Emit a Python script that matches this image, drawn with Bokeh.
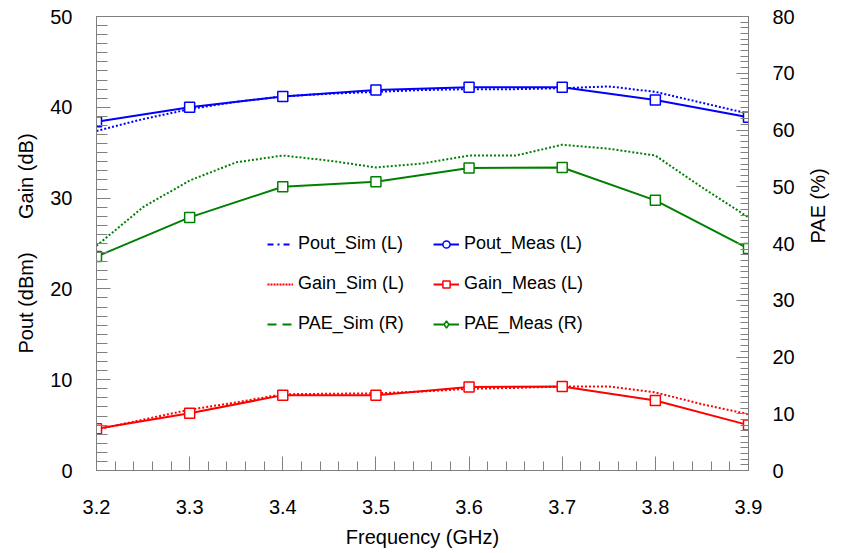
import math
from bokeh.plotting import figure
from bokeh.models import Range1d, LinearAxis, FixedTicker, Legend, LegendItem
from bokeh.embed import file_html
from bokeh.resources import INLINE

# ---------------- data ----------------
freq_meas = [3.2, 3.3, 3.4, 3.5, 3.6, 3.7, 3.8, 3.9]
freq_sim = [3.2, 3.25, 3.3, 3.35, 3.4, 3.45, 3.5, 3.55, 3.6, 3.65, 3.7, 3.75, 3.8, 3.85, 3.9]

pout_meas = [38.4, 40.0, 41.2, 41.9, 42.2, 42.2, 40.8, 38.9]
pout_sim = [37.4, 38.7, 39.8, 40.6, 41.2, 41.5, 41.7, 41.9, 42.0, 42.0, 42.1, 42.3, 41.7, 40.5, 39.3]
gain_meas = [4.6, 6.3, 8.3, 8.3, 9.2, 9.25, 7.7, 5.0]
gain_sim = [4.5, 5.6, 6.7, 7.5, 8.4, 8.45, 8.5, 8.7, 9.0, 9.1, 9.25, 9.25, 8.6, 7.3, 6.2]
pae_meas = [37.7, 44.6, 50.0, 50.9, 53.3, 53.4, 47.6, 39.1]
pae_sim = [39.6, 46.4, 51.1, 54.3, 55.5, 54.6, 53.4, 54.1, 55.5, 55.5, 57.4, 56.7, 55.5, 49.9, 44.6]

x_ticks = [3.2, 3.3, 3.4, 3.5, 3.6, 3.7, 3.8, 3.9]
left_ticks = [0, 10, 20, 30, 40, 50]
right_ticks = [0, 10, 20, 30, 40, 50, 60, 70, 80]

labels_sim = ["Pout_Sim (L)", "Gain_Sim (L)", "PAE_Sim (R)"]
labels_meas = ["Pout_Meas (L)", "Gain_Meas (L)", "PAE_Meas (R)"]

x_minor = [round(3.2 + 0.02 * i, 2) for i in range(36)]
left_minor = list(range(0, 51))
right_minor = list(range(0, 81))

NBSP = "\u00a0"
left_title = "Pout (dBm)" + NBSP * 5 + " Gain (dB)"
right_title = "PAE (%)"
x_title = "Frequency (GHz)"

# ---------------- style ----------------
BLUE = "#0000ff"
RED = "#ff0000"
GREEN = "#008000"
GRAY = "#808080"
FONT = "Liberation Sans"
NAN = float("nan")

p = figure(width=842, height=553,
           x_range=Range1d(3.2, 3.9), y_range=Range1d(0, 50),
           output_backend="svg", toolbar_location=None,
           min_border_left=96, min_border_right=90,
           min_border_top=16, min_border_bottom=83)
p.extra_y_ranges = {"pae": Range1d(0, 80)}
p.grid.visible = False
p.outline_line_color = GRAY
p.outline_line_width = 1

right_axis = LinearAxis(y_range_name="pae")
p.add_layout(right_axis, "right")

p.xaxis.ticker = FixedTicker(ticks=x_ticks, minor_ticks=x_minor)
p.yaxis[0].ticker = FixedTicker(ticks=left_ticks, minor_ticks=left_minor)
right_axis.ticker = FixedTicker(ticks=right_ticks, minor_ticks=right_minor)

for ax in [p.xaxis[0], p.yaxis[0], right_axis]:
    ax.axis_line_color = GRAY
    ax.major_tick_line_color = GRAY
    ax.minor_tick_line_color = GRAY
    ax.major_tick_out = 0
    ax.minor_tick_out = 0
    ax.major_label_text_font = FONT
    ax.major_label_text_font_size = "20px"
    ax.major_label_text_color = "black"
    ax.axis_label_text_font = FONT
    ax.axis_label_text_font_size = "20px"
    ax.axis_label_text_font_style = "normal"
    ax.axis_label_text_color = "black"

p.xaxis.major_tick_in = 14
p.xaxis.minor_tick_in = 9
p.xaxis.major_label_standoff = 29
p.xaxis.axis_label = x_title
p.xaxis.axis_label_standoff = 9

p.yaxis[0].major_tick_in = 14
p.yaxis[0].minor_tick_in = 11
p.yaxis[0].major_label_standoff = 24
p.yaxis[0].axis_label = left_title
p.yaxis[0].axis_label_standoff = 10

right_axis.major_tick_in = 12
right_axis.minor_tick_in = 8
right_axis.major_label_standoff = 24
right_axis.axis_label = right_title
right_axis.axis_label_standoff = 20
right_axis.axis_label_orientation = math.pi / 2

# ---------------- glyphs ----------------
p.line(freq_sim, pout_sim, line_color=BLUE, line_width=2, line_dash="2 2")
p.line(freq_sim, gain_sim, line_color=RED, line_width=2, line_dash="2 2")
p.line(freq_sim, pae_sim, line_color=GREEN, line_width=2, line_dash="2 2", y_range_name="pae")

p.line(freq_meas, pout_meas, line_color=BLUE, line_width=2)
p.line(freq_meas, gain_meas, line_color=RED, line_width=2)
p.line(freq_meas, pae_meas, line_color=GREEN, line_width=2, y_range_name="pae")

for ys, c, rn in [(pout_meas, BLUE, "default"), (gain_meas, RED, "default"), (pae_meas, GREEN, "pae")]:
    p.scatter(freq_meas, ys, marker="square", size=10, line_color=c, line_width=1.5,
              fill_color="white", y_range_name=rn)

# ---------------- legend (invisible NaN renderers carry the legend styles) ----------------
d_pout_sim = p.line(x=[NAN], y=[NAN], line_color=BLUE, line_width=2, line_dash="6 4 2 4")
d_gain_sim = p.line(x=[NAN], y=[NAN], line_color=RED, line_width=2, line_dash="2 1")
d_pae_sim = p.line(x=[NAN], y=[NAN], line_color=GREEN, line_width=2, line_dash="9 6")

d_pout_l = p.line(x=[NAN], y=[NAN], line_color=BLUE, line_width=2)
d_pout_m = p.scatter(x=[NAN], y=[NAN], marker="circle", line_color=BLUE, line_width=1.5, fill_color="white")
d_gain_l = p.line(x=[NAN], y=[NAN], line_color=RED, line_width=2)
d_gain_m = p.scatter(x=[NAN], y=[NAN], marker="square", line_color=RED, line_width=1.5, fill_color="white")
d_pae_l = p.line(x=[NAN], y=[NAN], line_color=GREEN, line_width=2)
d_pae_m = p.scatter(x=[NAN], y=[NAN], marker="diamond", line_color=GREEN, line_width=1.5, fill_color="white")

leg_kw = dict(glyph_width=26, glyph_height=18, label_height=18, spacing=19, padding=0,
              margin=0, label_standoff=5, border_line_color=None, background_fill_alpha=0,
              label_text_font=FONT, label_text_font_size="18px", label_text_color="black")

leg1 = Legend(items=[LegendItem(label=labels_sim[0], renderers=[d_pout_sim]),
                     LegendItem(label=labels_sim[1], renderers=[d_gain_sim]),
                     LegendItem(label=labels_sim[2], renderers=[d_pae_sim])],
              location=(171, 136), **leg_kw)
leg2 = Legend(items=[LegendItem(label=labels_meas[0], renderers=[d_pout_l, d_pout_m]),
                     LegendItem(label=labels_meas[1], renderers=[d_gain_l, d_gain_m]),
                     LegendItem(label=labels_meas[2], renderers=[d_pae_l, d_pae_m])],
              location=(337, 136), **leg_kw)
p.add_layout(leg1)
p.add_layout(leg2)

open("out.html", "w").write(file_html(p, INLINE))
